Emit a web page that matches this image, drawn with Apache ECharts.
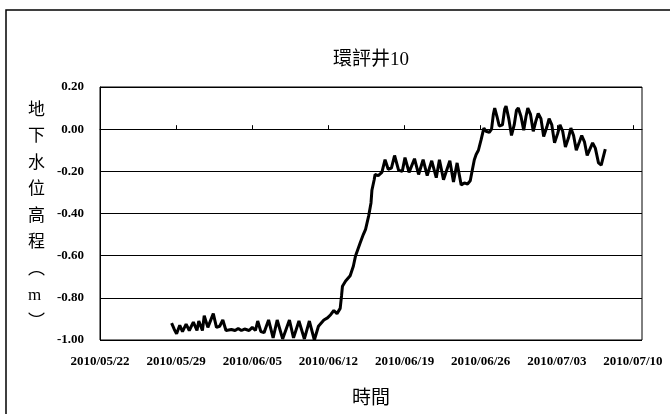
<!DOCTYPE html>
<html>
<head>
<meta charset="utf-8">
<script src="https://cdn.jsdelivr.net/npm/echarts@6/dist/echarts.min.js"></script>
<style>
html,body{margin:0;padding:0;background:#fff;}
#chart{width:670px;height:414px;}
</style>
</head>
<body>
<div id="chart"></div>
<script>
// ---- data ----
var titleText = '環評井10';
var yAxisTitle = ['地','下','水','位','高','程','︵','m','︶'];
var xAxisTitle = '時間';
var xStart = '2010-05-22';
var xEnd = '2010-07-10 20:00';
var yTicks = [-1.00, -0.80, -0.60, -0.40, -0.20, 0.00, 0.20];

var times = [
 '2010-05-28 14:00','2010-05-28 20:00','2010-05-29 01:00','2010-05-29 08:00','2010-05-29 14:00','2010-05-29 22:00',
 '2010-05-30 05:00','2010-05-30 14:00','2010-05-30 22:00','2010-05-31 02:00','2010-05-31 10:00','2010-05-31 14:00',
 '2010-05-31 22:00','2010-06-01 02:00','2010-06-01 10:00','2010-06-01 17:00','2010-06-02 00:00','2010-06-02 07:00',
 '2010-06-02 14:00','2010-06-03 02:00','2010-06-03 10:00','2010-06-03 17:00','2010-06-04 00:00','2010-06-04 07:00',
 '2010-06-04 17:00','2010-06-05 00:00','2010-06-05 07:00','2010-06-05 12:00','2010-06-05 19:00','2010-06-06 02:00',
 '2010-06-06 12:00','2010-06-06 22:00','2010-06-07 07:00','2010-06-07 19:00','2010-06-08 10:00','2010-06-08 19:00',
 '2010-06-09 07:00','2010-06-09 19:00','2010-06-10 06:00','2010-06-10 17:00','2010-06-11 02:00','2010-06-11 14:00',
 '2010-06-11 22:00','2010-06-12 05:00','2010-06-12 12:00','2010-06-12 19:00','2010-06-13 02:00','2010-06-13 05:00',
 '2010-06-13 07:00','2010-06-13 14:00','2010-06-14 00:00','2010-06-14 07:00','2010-06-14 12:00','2010-06-14 22:00',
 '2010-06-15 05:00','2010-06-15 10:00','2010-06-15 17:00','2010-06-15 22:00','2010-06-16 00:00','2010-06-16 05:00',
 '2010-06-16 07:00','2010-06-16 14:00','2010-06-16 22:00','2010-06-17 05:00','2010-06-17 12:00','2010-06-17 19:00',
 '2010-06-18 02:00','2010-06-18 11:00','2010-06-18 19:00','2010-06-19 01:00','2010-06-19 10:00','2010-06-19 22:00',
 '2010-06-20 07:00','2010-06-20 17:00','2010-06-21 02:00','2010-06-21 12:00','2010-06-21 22:00','2010-06-22 05:00',
 '2010-06-22 14:00','2010-06-23 04:00','2010-06-23 12:00','2010-06-23 20:00','2010-06-24 05:00','2010-06-24 12:00',
 '2010-06-24 19:00','2010-06-25 01:00','2010-06-25 05:00','2010-06-25 10:00','2010-06-25 14:00','2010-06-25 19:00',
 '2010-06-26 01:00','2010-06-26 07:00','2010-06-26 12:00','2010-06-26 19:00','2010-06-27 00:00','2010-06-27 04:00',
 '2010-06-27 07:00','2010-06-27 12:00','2010-06-27 17:00','2010-06-28 00:00','2010-06-28 05:00','2010-06-28 08:00',
 '2010-06-28 14:00','2010-06-28 20:00','2010-06-29 02:00','2010-06-29 07:00','2010-06-29 11:00','2010-06-29 17:00',
 '2010-06-29 23:00','2010-06-30 04:00','2010-06-30 08:00','2010-06-30 14:00','2010-06-30 20:00','2010-07-01 02:00',
 '2010-07-01 07:00','2010-07-01 13:00','2010-07-01 19:00','2010-07-02 02:00','2010-07-02 07:00','2010-07-02 13:00',
 '2010-07-02 19:00','2010-07-03 02:00','2010-07-03 07:00','2010-07-03 13:00','2010-07-03 19:00','2010-07-04 02:00',
 '2010-07-04 07:00','2010-07-04 13:00','2010-07-04 19:00','2010-07-05 02:00','2010-07-05 07:00','2010-07-05 13:00',
 '2010-07-05 19:00','2010-07-06 02:00','2010-07-06 07:00','2010-07-06 13:00','2010-07-06 20:00','2010-07-07 02:00',
 '2010-07-07 06:00','2010-07-07 08:00','2010-07-07 11:00'
];
var levels = [
 -0.92,-0.95,-0.97,-0.93,-0.96,-0.925,
 -0.955,-0.915,-0.955,-0.91,-0.955,-0.885,
 -0.94,-0.945,-0.875,-0.94,-0.935,-0.905,
 -0.955,-0.95,-0.955,-0.945,-0.955,-0.948,
 -0.955,-0.94,-0.955,-0.91,-0.96,-0.965,
 -0.905,-0.99,-0.905,-0.995,-0.905,-0.99,
 -0.91,-0.995,-0.91,-1.00,-0.935,-0.905,
 -0.895,-0.88,-0.86,-0.875,-0.85,-0.79,
 -0.745,-0.72,-0.695,-0.65,-0.60,-0.54,
 -0.50,-0.475,-0.41,-0.35,-0.29,-0.24,
 -0.215,-0.22,-0.205,-0.145,-0.19,-0.185,
 -0.125,-0.195,-0.20,-0.135,-0.205,-0.14,
 -0.215,-0.145,-0.22,-0.15,-0.23,-0.145,
 -0.24,-0.15,-0.25,-0.16,-0.265,-0.255,
 -0.26,-0.245,-0.20,-0.145,-0.12,-0.10,
 -0.05,0.005,-0.01,-0.015,0.00,0.07,
 0.10,0.06,0.015,0.02,0.095,0.11,
 0.05,-0.03,0.02,0.09,0.10,0.06,
 -0.005,0.06,0.10,0.07,-0.01,0.04,
 0.075,0.05,-0.035,0.01,0.05,0.02,
 -0.065,-0.02,0.02,-0.01,-0.085,-0.04,
 0.005,-0.03,-0.10,-0.06,-0.03,-0.06,
 -0.125,-0.09,-0.065,-0.09,-0.16,-0.17,
 -0.165,-0.12,-0.095
];

// ---- helpers ----
function toMs(s){
  var p = s.split(/[- :]/);
  return Date.UTC(+p[0], +p[1]-1, +p[2], +(p[3]||0), +(p[4]||0));
}
function pad(n){ return (n<10?'0':'')+n; }
var DAY = 86400000, WEEK = 7*DAY;
var xMin = toMs(xStart), xMax = toMs(xEnd);
var seriesData = times.map(function(t,i){ return [toMs(t), levels[i]]; });

var serif = "'Liberation Serif','Times New Roman',serif";
var mixed = "'Liberation Serif','Noto Sans CJK TC',serif";

var chart = echarts.init(document.getElementById('chart'), null, {renderer:'canvas'});
chart.setOption({
  backgroundColor:'#fff',
  animation:false,
  title:{
    text:titleText, left:366, top:46, textAlign:'center',
    textStyle:{fontFamily:mixed, fontSize:19, fontWeight:'normal', color:'#000'}
  },
  grid:{left:100, right:28, top:87, bottom:74, show:true, borderColor:'#000', borderWidth:1, outerBoundsMode:'none', containLabel:false},
  xAxis:{
    type:'value', min:xMin, max:xMax, interval:WEEK,
    name:xAxisTitle, nameLocation:'middle', nameGap:50,
    nameTextStyle:{fontFamily:mixed, fontSize:19, color:'#000'},
    axisLine:{show:true, lineStyle:{color:'#000', width:1}},
    axisTick:{show:true, inside:true, length:4, lineStyle:{color:'#000'}},
    splitLine:{show:false},
    axisLabel:{
      margin:15, color:'#000', fontFamily:serif, fontSize:13, fontWeight:'bold',
      showMaxLabel:false,
      formatter:function(v){
        if (Math.abs((v - xMin) % WEEK) > 1000 && Math.abs((v - xMin) % WEEK - WEEK) > 1000) return '';
        var d = new Date(v);
        return d.getUTCFullYear()+'/'+pad(d.getUTCMonth()+1)+'/'+pad(d.getUTCDate());
      }
    }
  },
  yAxis:{
    type:'value', min:yTicks[0], max:yTicks[yTicks.length-1], interval:0.2,
    axisLine:{show:true, lineStyle:{color:'#000', width:1}},
    axisTick:{show:false},
    splitLine:{show:true, lineStyle:{color:'#000', width:1}},
    axisLabel:{
      margin:16, color:'#000', fontFamily:serif, fontSize:13, fontWeight:'bold',
      formatter:function(v){ if (Math.abs(v)<1e-9) v=0; return v.toFixed(2); }
    }
  },
  graphic:[
    {type:'polyline', silent:true, shape:{points:[[6,414],[6,10],[670,10]]}, style:{stroke:'#000', lineWidth:1.5, fill:null}},
    {type:'text', left:28, top:97, style:{
      text:yAxisTitle.join('\n'), font:"17px "+mixed, fill:'#000',
      lineHeight:26.5, align:'center', width:20
    }}
  ],
  series:[{
    type:'line', data:seriesData, showSymbol:false, symbol:'none',
    lineStyle:{color:'#000', width:3}, smooth:false
  }]
});
</script>
</body>
</html>
